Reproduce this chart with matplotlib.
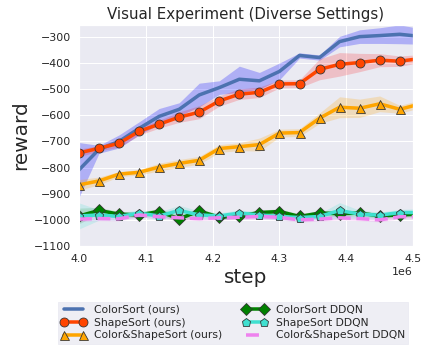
import matplotlib
matplotlib.use("Agg")
import matplotlib.pyplot as plt
import seaborn as sns
import numpy as np

sns.set_theme(style="darkgrid")
plt.rcParams["font.family"] = ["DejaVu Sans"]

# x positions (in units of 1e6 steps)
steps = np.array([4.00, 4.03, 4.06, 4.09, 4.12, 4.15, 4.18, 4.21, 4.24,
                  4.27, 4.30, 4.33, 4.36, 4.39, 4.42, 4.45, 4.48, 4.51]) * 1e6

color_ours = [-809, -730, -700, -650, -604, -577, -522, -494, -462,
              -468, -432, -371, -379, -318, -299, -295, -290, -298]
color_ours_sd = [105, 15, 25, 25, 30, 25, 45, 26, 50,
                 32, 32, 10, 10, 20, 26, 30, 36, 30]

shape_ours = [-744, -726, -707, -661, -634, -607, -588, -545, -519,
              -512, -480, -479, -424, -405, -398, -389, -393, -383]
shape_ours_sd = [15, 10, 15, 15, 15, 20, 25, 20, 20,
                 20, 15, 15, 40, 45, 35, 25, 20, 15]

both_ours = [-866, -851, -825, -818, -798, -784, -772, -727, -720,
             -712, -668, -666, -611, -569, -573, -556, -577, -557]
both_ours_sd = [20, 15, 10, 10, 15, 15, 15, 15, 15,
                25, 15, 15, 20, 40, 35, 30, 15, 15]

color_ddqn = [-985, -964, -978, -981, -968, -996, -966, -990, -985,
              -972, -968, -987, -974, -976, -974, -985, -981, -978]
color_ddqn_sd = [30, 12, 10, 10, 12, 15, 10, 10, 10,
                 10, 10, 10, 10, 12, 10, 10, 10, 10]

shape_ddqn = [-985, -981, -987, -974, -985, -964, -981, -985, -974,
              -981, -987, -991, -987, -964, -978, -982, -972, -972]
shape_ddqn_sd = [50, 20, 15, 12, 15, 20, 15, 12, 12,
                 12, 12, 12, 12, 30, 15, 12, 12, 15]

both_ddqn = [-997, -995, -996, -981, -988, -992, -995, -992, -990,
             -987, -990, -1000, -997, -992, -995, -1000, -988, -988]
both_ddqn_sd = [10, 8, 8, 8, 8, 8, 8, 8, 8,
                10, 10, 8, 8, 8, 8, 8, 8, 8]

series = [
    ("ColorSort (ours)", color_ours, color_ours_sd, "#4c72b0", "blue", None, 0, 0.25),
    ("ShapeSort (ours)", shape_ours, shape_ours_sd, "orangered", "red", "o", 9, 0.18),
    ("Color&ShapeSort (ours)", both_ours, both_ours_sd, "orange", "orange", "^", 9, 0.22),
    ("ColorSort DDQN", color_ddqn, color_ddqn_sd, "green", "green", "D", 8, 0.15),
    ("ShapeSort DDQN", shape_ddqn, shape_ddqn_sd, "turquoise", "turquoise", "p", 9, 0.2),
    ("Color&ShapeSort DDQN", both_ddqn, both_ddqn_sd, "violet", "violet", None, 0, 0.2),
]

fig = plt.figure(figsize=(429 / 72, 354 / 72), dpi=72)
ax = fig.add_axes([0.184, 0.305, 0.779, 0.624])

for name, mean, sd, col, band, mk, ms, alpha in series:
    mean = np.array(mean, dtype=float)
    sd = np.array(sd, dtype=float)
    ax.fill_between(steps, mean - sd, mean + sd, color=band, alpha=alpha, lw=0)
    ls = "--" if name == "Color&ShapeSort DDQN" else "-"
    ax.plot(steps, mean, ls, color=col, lw=3.5, marker=mk, ms=ms,
            mec="#333333", mew=0.8, label=name)

ax.set_xlim(4.0e6, 4.5e6)
ax.set_ylim(-1100, -255)
ax.set_yticks(np.arange(-1100, -250, 100))
ax.ticklabel_format(axis="x", style="sci", scilimits=(0, 0), useOffset=False)
ax.tick_params(labelsize=11, length=4, color="#333333", labelcolor="#262626")
ax.xaxis.get_offset_text().set_fontsize(11)
ax.set_title("Visual Experiment (Diverse Settings)", fontsize=15, color="#262626")
ax.set_xlabel("step", fontsize=20, color="#262626", labelpad=4)
ax.set_ylabel("reward", fontsize=20, color="#262626", labelpad=4)

leg = fig.legend(loc="upper center", bbox_to_anchor=(0.543, 0.163), ncol=2,
                 fontsize=10.8, frameon=True, facecolor="#eaeaf2", edgecolor="#eaeaf2",
                 numpoints=2, handlelength=2.3, handletextpad=0.75, columnspacing=1.9,
                 borderpad=0.3, labelspacing=0.25, fancybox=False)

fig.savefig("out.png", dpi=72)
